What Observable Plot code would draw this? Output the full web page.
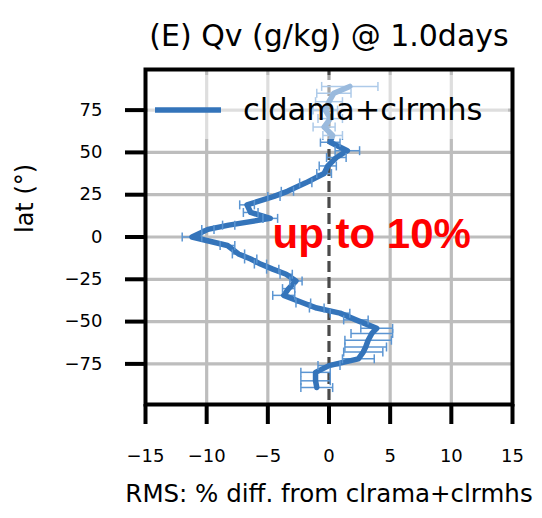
<!DOCTYPE html>
<html>
<head>
<meta charset="utf-8">
<script src="https://cdn.jsdelivr.net/npm/d3@7"></script>
<script src="https://cdn.jsdelivr.net/npm/@observablehq/plot@0.6"></script>
<style>
  html, body { margin: 0; padding: 0; background: white; }
  #wrap { position: relative; width: 542px; height: 518px; }
  #overlay { position: absolute; left: 0; top: 0; pointer-events: none; }
</style>
</head>
<body>
<div id="wrap"></div>
<script>
// ---- data ----
const title = "(E) Qv (g/kg) @ 1.0days";
const xLabel = "RMS: % diff. from clrama+clrmhs";
const yLabel = "lat (°)";
const seriesName = "cldama+clrmhs";
const annotation = "up to 10%";
const xTicks = [-15, -10, -5, 0, 5, 10, 15];
const yTicks = [-75, -50, -25, 0, 25, 50, 75];
const xGrid = [-10, -5, 5, 10];
const zeroLine = [0];

const lats   = [89, 85, 80, 75, 70, 65, 60, 56, 51, 47, 42, 37.5, 32, 27, 24, 19, 14.5, 11, 7, 4.5, 0,
                -5, -10, -13, -16, -19, -22, -26, -30.5, -34.5, -39, -42, -45, -49, -54, -57, -61, -65, -68, -72, -76, -80, -85, -89];
const values = [1.7, 0.4, 0.0, -0.3, 0.1, -0.4, 0.3, 0.1, 1.5, 0.6, -0.1, -0.4, -1.9, -3.4, -4.5, -6.7, -6.4, -4.8, -8.2, -9.9, -11.2,
                -8.3, -7.4, -6.4, -5.6, -4.6, -3.5, -2.7, -3.3, -3.7, -2.1, -1.0, 0.9, 2.2, 3.9, 3.5, 3.2, 3.0, 2.8, 2.4, 0.0, -1.1, -1.1, -1.0];
const errors = [2.3, 1.4, 1.1, 1.0, 1.0, 0.9, 0.8, 0.8, 1.0, 0.8, 0.7, 0.6, 0.5, 0.5, 0.5, 0.6, 0.6, 0.6, 0.5, 0.5, 0.8,
                0.6, 0.5, 0.5, 0.5, 0.5, 0.5, 0.5, 0.5, 0.9, 0.6, 0.6, 0.8, 1.0, 1.3, 1.7, 1.9, 1.7, 1.6, 1.3, 0.9, 1.2, 1.2, 1.3];

const data = lats.map((lat, i) => ({lat, v: values[i], err: errors[i]}));

const lineColor = "#3474ba";
const errColor = "#5b95d2";
const capSymbol = {
  draw(ctx, size) {
    const r = Math.sqrt(size / Math.PI);
    ctx.moveTo(0, -r);
    ctx.lineTo(0, r);
  }
};
const fmt = d => d < 0 ? "\u2212" + Math.abs(d) : String(d);

const W = 542, H = 518;
const chart = Plot.plot({
  width: W,
  height: H,
  marginLeft: 145,
  marginRight: 30,
  marginTop: 69,
  marginBottom: 114,
  style: {fontFamily: "DejaVu Sans", fontSize: "18px", color: "black", background: "white"},
  x: {domain: [-15, 15]},
  y: {domain: [-99, 99]},
  marks: [
    Plot.ruleX(xGrid, {stroke: "#bdbdbd", strokeWidth: 3.2}),
    Plot.ruleY(yTicks, {stroke: "#bdbdbd", strokeWidth: 3.2}),
    Plot.ruleX(zeroLine, {stroke: "#4a4a4a", strokeWidth: 3.2, strokeDasharray: "11,5"}),
    Plot.link(data, {x1: d => d.v - d.err, x2: d => d.v + d.err, y1: "lat", y2: "lat", stroke: errColor, strokeWidth: 1.5}),
    Plot.line(data, {x: "v", y: "lat", stroke: lineColor, strokeWidth: 5.5, curve: "linear"}),
    Plot.dot(data, {x: d => d.v - d.err, y: "lat", symbol: capSymbol, r: 4.5, stroke: errColor, strokeWidth: 1.5, fill: "none"}),
    Plot.dot(data, {x: d => d.v + d.err, y: "lat", symbol: capSymbol, r: 4.5, stroke: errColor, strokeWidth: 1.5, fill: "none"}),
    Plot.frame({stroke: "black", strokeWidth: 4}),
    Plot.axisX({ticks: xTicks, tickFormat: fmt, tickSize: 20, tickPadding: 25, strokeWidth: 4, fontSize: 18, label: null}),
    Plot.axisY({ticks: yTicks, tickFormat: fmt, tickSize: 20, tickPadding: 23, strokeWidth: 4, fontSize: 18, label: null}),
    Plot.text([annotation], {frameAnchor: "left", dx: 127, dy: -2, textAnchor: "start", fontSize: 42, fontWeight: "bold", fill: "#ff0000", fontFamily: "Liberation Sans, Arial, sans-serif"}),
    Plot.text([title], {frameAnchor: "top", dy: -45, fontSize: 30}),
    Plot.text([xLabel], {frameAnchor: "bottom", dy: 97, fontSize: 24.5}),
    Plot.text([yLabel], {frameAnchor: "left", dx: -120, dy: -4, rotate: -90, fontSize: 24})
  ]
});
const wrap = document.getElementById("wrap");
wrap.appendChild(chart);

// legend overlay (semi-transparent box as in the original)
const ns = "http://www.w3.org/2000/svg";
const ov = document.createElementNS(ns, "svg");
ov.setAttribute("id", "overlay");
ov.setAttribute("width", W);
ov.setAttribute("height", H);
const rect = document.createElementNS(ns, "rect");
rect.setAttribute("x", 148); rect.setAttribute("y", 75);
rect.setAttribute("width", 360); rect.setAttribute("height", 64);
rect.setAttribute("fill", "white"); rect.setAttribute("fill-opacity", 0.5);
ov.appendChild(rect);
const ln = document.createElementNS(ns, "line");
ln.setAttribute("x1", 155); ln.setAttribute("x2", 221);
ln.setAttribute("y1", 110); ln.setAttribute("y2", 110);
ln.setAttribute("stroke", lineColor); ln.setAttribute("stroke-width", 5.5);
ov.appendChild(ln);
const tx = document.createElementNS(ns, "text");
tx.setAttribute("x", 243); tx.setAttribute("y", 120);
tx.setAttribute("font-family", "DejaVu Sans"); tx.setAttribute("font-size", 30.5);
tx.setAttribute("fill", "black");
tx.textContent = seriesName;
ov.appendChild(tx);
wrap.appendChild(ov);
</script>
</body>
</html>
